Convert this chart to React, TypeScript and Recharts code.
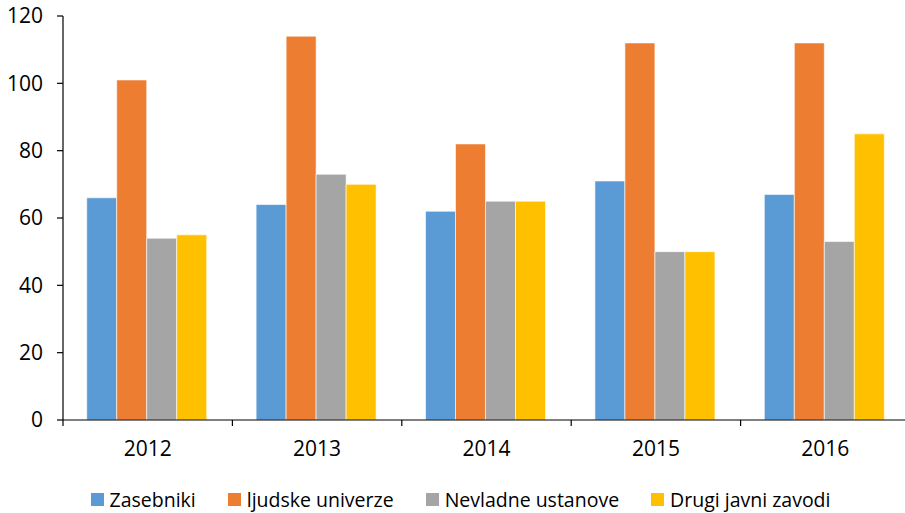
import { BarChart, Bar, XAxis, YAxis, Legend } from "recharts";

const YEARS = ["2012", "2013", "2014", "2015", "2016"];
const ZASEBNIKI = [66, 64, 62, 71, 67];
const LJUDSKE_UNIVERZE = [101, 114, 82, 112, 112];
const NEVLADNE_USTANOVE = [54, 73, 65, 50, 53];
const DRUGI_JAVNI_ZAVODI = [55, 70, 65, 50, 85];
const SERIES_NAMES = ["Zasebniki", "ljudske univerze", "Nevladne ustanove", "Drugi javni zavodi"];
const Y_TICKS = [0, 20, 40, 60, 80, 100, 120];

const COLORS = ["#5B9BD5", "#ED7D31", "#A5A5A5", "#FFC000"];
const FONT = "'Open Sans', sans-serif";

const CHART_W = 905;
const CHART_H = 513;
const MARGIN = { top: 16, right: -5, bottom: 43, left: 0 };
const YAXIS_W = 63;
const TICK_SIZE = 6;
const TICK_MARGIN = 15;
const BAND = (CHART_W - MARGIN.left - MARGIN.right - YAXIS_W) / YEARS.length;

const data = YEARS.map((year, i) => ({
	year,
	s0: ZASEBNIKI[i],
	s1: LJUDSKE_UNIVERZE[i],
	s2: NEVLADNE_USTANOVE[i],
	s3: DRUGI_JAVNI_ZAVODI[i],
}));

// category label plus a tick mark on the left edge of each category
const YearTick = ({ x, y, payload }: any) => {
	const left = x - BAND / 2;
	const axisY = y - TICK_MARGIN - TICK_SIZE;
	return (
		<g>
			<line x1={left} y1={axisY} x2={left} y2={axisY + TICK_SIZE} stroke='#000' strokeWidth={1.2} />
			<text
				x={x}
				y={y}
				dy='0.71em'
				textAnchor='middle'
				fill='#000'
				fontSize={21}
				fontFamily={FONT}
			>
				{payload.value}
			</text>
		</g>
	);
};

// keep the series order (recharts sorts legend items by name otherwise)
const renderLegend = () => (
	<div
		style={{
			display: "flex",
			justifyContent: "center",
			fontFamily: FONT,
			fontSize: 19.5,
			color: "#000",
		}}
	>
		{SERIES_NAMES.map((name, i) => (
			<div
				key={`legend-${i}`}
				style={{ display: "flex", alignItems: "center", marginRight: i < SERIES_NAMES.length - 1 ? 32 : 0 }}
			>
				<span style={{ width: 13, height: 13, background: COLORS[i], marginRight: 6, display: "inline-block" }} />
				<span>{name}</span>
			</div>
		))}
	</div>
);

const App = () => {
	return (
		<div style={{ position: "absolute", left: 0, top: 0, background: "#fff" }}>
			<BarChart
				width={CHART_W}
				height={CHART_H}
				data={data}
				margin={MARGIN}
				barCategoryGap='14%'
				barGap={0}
			>
				<XAxis
					dataKey='year'
					height={50}
					stroke='#000'
					strokeWidth={1.2}
					tickLine={false}
					tickSize={TICK_SIZE}
					tickMargin={TICK_MARGIN}
					tick={<YearTick />}
					interval={0}
				/>
				<YAxis
					width={YAXIS_W}
					domain={[0, 120]}
					ticks={Y_TICKS}
					interval={0}
					stroke='#000'
					strokeWidth={1.2}
					tickSize={TICK_SIZE}
					tickMargin={14}
					tick={{ fontSize: 21, fill: "#000", fontFamily: FONT }}
				/>
				<Legend
					layout='horizontal'
					verticalAlign='middle'
					align='center'
					content={renderLegend}
					wrapperStyle={{ position: "absolute", top: 486, left: 24, width: 873 }}
				/>
				{SERIES_NAMES.map((name, i) => (
					<Bar
						key={name}
						dataKey={`s${i}`}
						name={name}
						fill={COLORS[i]}
						stroke='#fff'
						strokeWidth={0.6}
						isAnimationActive={false}
					/>
				))}
			</BarChart>
		</div>
	);
};

export default App;
